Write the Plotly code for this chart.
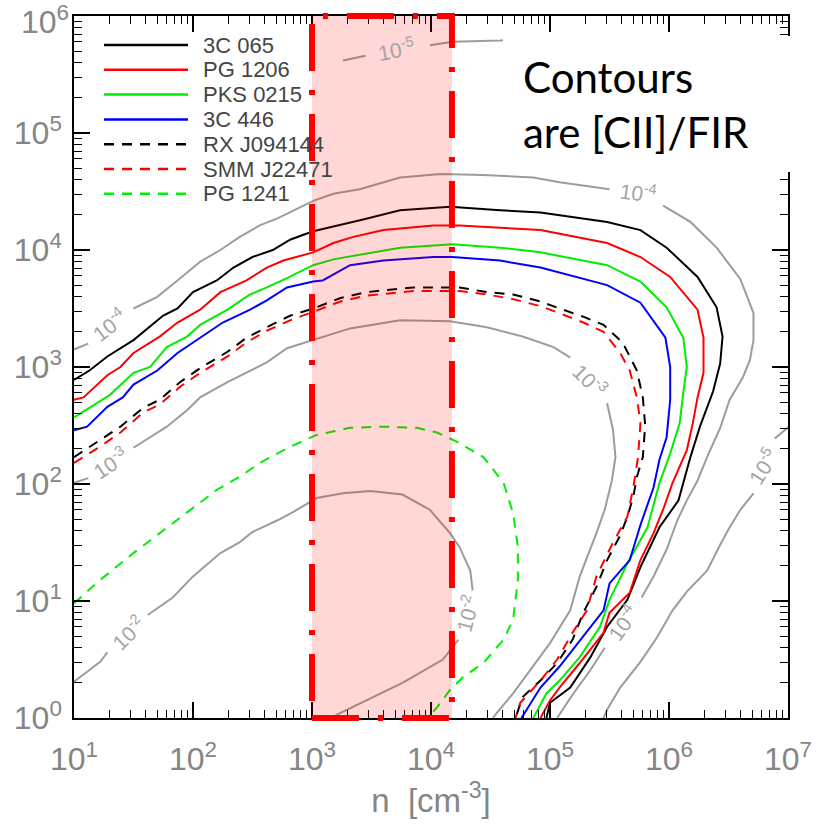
import plotly.graph_objects as go

# Figure geometry (pixels)
W, H = 823, 826
ML, MR, MT, MB = 74, 35, 16, 108


def px(v):
    """Horizontal pixel -> paper fraction."""
    return (v - ML) / (W - ML - MR)


def py(v):
    """Vertical pixel (from top) -> paper fraction."""
    return (H - MB - v) / (H - MT - MB)


# ---------------------------------------------------------------------------
# Curves: log10 of density n [cm^-3] and log10 of G0 along each source track
# ---------------------------------------------------------------------------
names = ["3C 065", "PG 1206", "PKS 0215", "3C 446", "RX J094144", "SMM J22471", "PG 1241"]

logn_3c065 = [1.00, 1.13, 1.28, 1.50, 1.75, 1.87, 2.00, 2.20, 2.34, 2.50, 2.67, 2.82, 3.01, 3.18, 3.43,
              3.74, 4.16, 4.58, 4.92, 5.48, 5.76, 5.98, 6.24, 6.40, 6.45, 6.43, 6.37, 6.26, 6.18, 6.08,
              5.92, 5.76, 5.65, 5.48, 5.34, 5.17, 5.00, 4.97]
logg_3c065 = [2.89, 2.97, 3.09, 3.23, 3.44, 3.50, 3.64, 3.74, 3.85, 3.94, 4.00, 4.09, 4.16, 4.20, 4.26,
              4.34, 4.37, 4.34, 4.32, 4.24, 4.17, 4.02, 3.77, 3.51, 3.26, 3.03, 2.79, 2.49, 2.23, 1.86,
              1.63, 1.29, 1.01, 0.78, 0.52, 0.26, 0.13, 0.00]

logn_pg1206 = [1.00, 1.08, 1.28, 1.39, 1.50, 1.72, 1.87, 2.06, 2.23, 2.45, 2.62, 2.76, 3.01, 3.18, 3.34,
               3.60, 4.02, 4.24, 4.58, 4.92, 5.48, 5.76, 6.01, 6.24, 6.29, 6.29, 6.24, 6.20, 6.15, 6.03,
               5.95, 5.87, 5.76, 5.67, 5.50, 5.45, 5.25, 5.08, 5.00, 4.92]
logg_pg1206 = [2.72, 2.74, 2.93, 3.00, 3.12, 3.26, 3.38, 3.49, 3.64, 3.74, 3.85, 3.91, 3.98, 4.06, 4.11,
               4.17, 4.21, 4.21, 4.19, 4.17, 4.06, 3.94, 3.77, 3.49, 3.25, 2.95, 2.74, 2.52, 2.29, 2.01,
               1.78, 1.58, 1.35, 1.07, 0.90, 0.73, 0.47, 0.26, 0.15, 0.00]

logn_pks0215 = [1.00, 1.13, 1.30, 1.50, 1.64, 1.78, 1.95, 2.06, 2.29, 2.48, 2.62, 2.79, 3.01, 3.18, 3.46,
                3.74, 4.18, 4.58, 4.92, 5.48, 5.76, 5.98, 6.12, 6.15, 6.12, 6.09, 6.01, 5.92, 5.82, 5.65,
                5.50, 5.42, 5.25, 5.08, 4.97, 4.86]
logg_pks0215 = [2.57, 2.65, 2.76, 2.95, 3.00, 3.17, 3.26, 3.36, 3.49, 3.62, 3.68, 3.76, 3.87, 3.92, 3.97,
                4.02, 4.05, 4.02, 3.98, 3.87, 3.73, 3.51, 3.25, 3.00, 2.78, 2.52, 2.26, 2.01, 1.63, 1.32,
                1.01, 0.78, 0.52, 0.32, 0.21, 0.00]

logn_3c446 = [1.00, 1.11, 1.28, 1.41, 1.50, 1.70, 1.87, 2.00, 2.08, 2.25, 2.48, 2.62, 2.79, 3.01, 3.09,
              3.32, 3.60, 4.02, 4.18, 4.58, 4.92, 5.48, 5.76, 5.97, 6.01, 6.01, 5.98, 5.92, 5.87, 5.76,
              5.67, 5.50, 5.45, 5.23, 5.08, 4.92, 4.76]
logg_3c446 = [2.46, 2.49, 2.66, 2.74, 2.85, 2.97, 3.12, 3.21, 3.26, 3.38, 3.49, 3.57, 3.68, 3.73, 3.74,
              3.87, 3.91, 3.94, 3.94, 3.91, 3.85, 3.70, 3.55, 3.25, 3.00, 2.72, 2.40, 2.21, 1.97, 1.65,
              1.35, 1.15, 0.92, 0.64, 0.44, 0.26, 0.00]

logn_rxj094144 = [1.00, 1.22, 1.39, 1.58, 1.72, 1.89, 2.06, 2.29, 2.45, 2.62, 2.82, 3.01, 3.24, 3.46, 3.85,
                  4.24, 4.47, 4.69, 4.92, 5.08, 5.28, 5.45, 5.61, 5.73, 5.78, 5.80, 5.78, 5.73, 5.70, 5.65,
                  5.59, 5.48, 5.39, 5.28, 5.19, 5.06, 4.92, 4.77, 4.71]
logg_rxj094144 = [2.23, 2.38, 2.49, 2.65, 2.72, 2.87, 2.99, 3.13, 3.25, 3.34, 3.44, 3.50, 3.59, 3.64, 3.68,
                  3.68, 3.64, 3.62, 3.56, 3.50, 3.43, 3.36, 3.21, 2.97, 2.74, 2.50, 2.23, 2.06, 1.89, 1.72,
                  1.56, 1.35, 1.12, 0.90, 0.67, 0.47, 0.32, 0.18, 0.00]

logn_smmj22471 = [1.00, 1.22, 1.39, 1.58, 1.72, 1.89, 2.06, 2.29, 2.45, 2.62, 2.82, 3.01, 3.24, 3.46, 3.85,
                  4.24, 4.47, 4.69, 4.92, 5.08, 5.28, 5.45, 5.59, 5.67, 5.73, 5.76, 5.74, 5.70, 5.65, 5.53,
                  5.39, 5.31, 5.19, 5.06, 4.92, 4.75, 4.71]
logg_smmj22471 = [2.18, 2.32, 2.44, 2.61, 2.68, 2.83, 2.95, 3.09, 3.21, 3.31, 3.40, 3.47, 3.56, 3.61, 3.65,
                  3.65, 3.62, 3.58, 3.52, 3.46, 3.38, 3.30, 3.12, 2.97, 2.74, 2.52, 2.23, 1.97, 1.72, 1.50,
                  1.21, 0.92, 0.73, 0.50, 0.32, 0.13, 0.00]

logn_pg1241 = [1.00, 1.22, 1.50, 1.72, 1.87, 2.06, 2.20, 2.39, 2.56, 2.82, 3.04, 3.32, 3.60, 3.88, 4.05,
               4.22, 4.44, 4.61, 4.69, 4.73, 4.73, 4.69, 4.61, 4.44, 4.27, 4.16, 4.05, 3.97]
logg_pg1241 = [0.98, 1.18, 1.41, 1.58, 1.69, 1.84, 1.95, 2.06, 2.18, 2.32, 2.42, 2.48, 2.49, 2.48, 2.44,
               2.36, 2.23, 2.01, 1.75, 1.46, 1.18, 0.84, 0.67, 0.47, 0.35, 0.24, 0.09, 0.00]

series_logn = [logn_3c065, logn_pg1206, logn_pks0215, logn_3c446, logn_rxj094144, logn_smmj22471, logn_pg1241]
series_logg = [logg_3c065, logg_pg1206, logg_pks0215, logg_3c446, logg_rxj094144, logg_smmj22471, logg_pg1241]

# ---------------------------------------------------------------------------
# [CII]/FIR contours (None = break left for the inline label)
# ---------------------------------------------------------------------------
c2_logn = [1.00, 1.22, 1.28, None, 1.62, 1.83, 2.00, 2.23, 2.39, 2.50, 2.71, 2.84, 3.04, 3.26, 3.49, 3.76,
           3.99, 4.16, 4.24, 4.33, 4.35, None, 4.23, 4.10, 3.76, 3.51, 3.21, 3.17]
c2_logg = [0.31, 0.48, 0.56, None, 0.88, 1.03, 1.21, 1.41, 1.50, 1.59, 1.69, 1.76, 1.88, 1.92, 1.94, 1.91,
           1.78, 1.58, 1.46, 1.26, 1.09, None, 0.67, 0.50, 0.30, 0.18, 0.03, 0.00]

c3_logn = [1.00, 1.12, None, 1.50, 1.64, 1.78, 1.95, 2.06, 2.29, 2.48, 2.62, 2.79, 3.01, 3.18, 3.32, 3.74,
           4.16, 4.47, 4.77, 5.03, 5.17, None, 5.48, 5.53, 5.55, 5.52, 5.46, 5.39, 5.25, 5.17, 5.00, 4.81,
           4.69, 4.55, 4.52]
c3_logg = [2.01, 2.05, None, 2.31, 2.40, 2.49, 2.63, 2.74, 2.87, 2.97, 3.04, 3.16, 3.23, 3.29, 3.33, 3.40,
           3.39, 3.34, 3.26, 3.17, 3.08, None, 2.69, 2.46, 2.23, 2.03, 1.78, 1.58, 1.21, 0.92, 0.64, 0.38,
           0.21, 0.04, 0.00]

c4_logn = [1.00, 1.12, None, 1.50, 1.70, 1.87, 2.06, 2.23, 2.39, 2.56, 2.71, 3.01, 3.18, 3.40, 3.74, 4.08,
           4.44, 4.86, 5.08, 5.50, None, 5.95, 6.18, 6.40, 6.60, 6.71, 6.71, 6.68, 6.62, 6.51, 6.43, 6.32,
           6.24, 6.15, 6.07, 5.98, 5.87, 5.77, None, 5.46, 5.34, 5.19, 5.06]
c4_logg = [3.15, 3.20, None, 3.50, 3.60, 3.74, 3.90, 4.00, 4.11, 4.21, 4.27, 4.42, 4.48, 4.52, 4.62, 4.65,
           4.64, 4.62, 4.58, 4.52, None, 4.38, 4.24, 4.02, 3.75, 3.46, 3.23, 3.06, 2.91, 2.72, 2.48, 2.23,
           2.03, 1.86, 1.69, 1.44, 1.21, 1.03, None, 0.60, 0.41, 0.20, 0.00]

c5_logn = [3.26, 3.45, None, 3.99, 4.18, 4.58, 4.75, None, 7.02, 6.89, None, 6.71, 6.60, 6.51, 6.43, 6.32,
           6.15, 6.03, 5.90, 5.76, 5.59, 5.48, 5.45]
c5_logg = [5.62, 5.66, None, 5.75, 5.78, 5.79, 5.80, None, 2.50, 2.39, None, 1.92, 1.78, 1.63, 1.48, 1.26,
           1.08, 0.92, 0.69, 0.48, 0.26, 0.07, 0.00]

contour_logn = [c2_logn, c3_logn, c4_logn, c5_logn]
contour_logg = [c2_logg, c3_logg, c4_logg, c5_logg]

# Inline contour labels: exponent, log10 n, log10 G0, text angle
contour_labels = [
    (-5, 3.71, 5.72, -10),
    (-4, 5.74, 4.50, 8),
    (-4, 1.29, 3.36, -38),
    (-3, 1.30, 2.18, -33),
    (-3, 5.34, 2.89, 45),
    (-2, 1.45, 0.73, -44),
    (-2, 4.30, 0.89, -75),
    (-4, 5.61, 0.81, -55),
    (-5, 6.79, 2.15, -58),
]

# Highlighted density range
box_n = [1.0e3, 1.5e4]

# Axis decades
x_exp = [1, 2, 3, 4, 5, 6, 7]
y_exp = [0, 1, 2, 3, 4, 5, 6]


def lin(vals):
    return [None if v is None else 10 ** v for v in vals]


colors = ["#000000", "#ff0000", "#00ee00", "#0000ff", "#000000", "#ff0000", "#00ee00"]
dashes = ["solid", "solid", "solid", "solid", "10px,8px", "10px,8px", "10px,8px"]
GRAY_LINE = "#9c9c9c"
GRAY_TEXT = "#858585"
TICK_FONT = dict(family="Liberation Sans", size=32, color=GRAY_TEXT)

fig = go.Figure()

for cn, cg in zip(contour_logn, contour_logg):
    fig.add_trace(go.Scatter(x=lin(cn), y=lin(cg), mode="lines", connectgaps=False,
                             line=dict(color=GRAY_LINE, width=2), showlegend=False, hoverinfo="skip"))

for nm, sn, sg, col, ds in zip(names, series_logn, series_logg, colors, dashes):
    fig.add_trace(go.Scatter(x=lin(sn), y=lin(sg), mode="lines", name=nm,
                             line=dict(color=col, width=2, dash=ds), showlegend=False))

shapes = []
annotations = []

# Contour labels
for ex, ln, lg, ang in contour_labels:
    annotations.append(dict(x=ln, y=lg, xref="x", yref="y", showarrow=False, textangle=ang,
                            text="10<sup>-%d</sup>" % abs(ex),
                            font=dict(family="Liberation Sans", size=21, color="#a4a4a4")))

# Highlighted density band
shapes.append(dict(type="rect", xref="x", yref="paper", x0=box_n[0], x1=box_n[1], y0=0, y1=1,
                   fillcolor="rgba(255,0,0,0.155)",
                   line=dict(color="#ff0000", width=6, dash="47px,19px,5px,19px"), layer="above"))

# Text panel in the upper right
shapes.append(dict(type="rect", xref="paper", yref="paper", x0=px(503), x1=px(823), y0=py(172), y1=py(36),
                   fillcolor="white", line=dict(width=0), layer="above"))
annotations.append(dict(xref="paper", yref="paper", x=px(521), y=py(105), xanchor="left", yanchor="middle",
                        align="left", showarrow=False, text="Contours<br>are [CII]/FIR",
                        font=dict(family="Lato", size=42, color="black")))

# Legend (line samples + names)
for i, (nm, col, ds) in enumerate(zip(names, colors, dashes)):
    yy = py(45 + i * 24.8)
    shapes.append(dict(type="line", xref="paper", yref="paper", x0=px(104), x1=px(188), y0=yy, y1=yy,
                       line=dict(color=col, width=2.5, dash=ds), layer="above"))
    annotations.append(dict(xref="paper", yref="paper", x=px(201), y=yy, xanchor="left", yanchor="middle",
                            showarrow=False, text=nm,
                            font=dict(family="Liberation Sans", size=22, color="#454545")))

# Top y-axis label sits just below the top edge so it stays on the page
y_ticktext = ["10<sup>%d</sup>" % e for e in y_exp]
top_label = y_ticktext[-1]
y_ticktext[-1] = ""
annotations.append(dict(xref="paper", yref="paper", x=px(70), y=py(20), xanchor="right", yanchor="middle",
                        showarrow=False, text=top_label, font=TICK_FONT, borderpad=0))

axis_common = dict(
    type="log", showgrid=False, zeroline=False, showline=True, linecolor="black", linewidth=1.5,
    mirror="allticks", ticks="inside", ticklen=16, tickwidth=1.5, tickcolor="black",
    minor=dict(ticks="inside", ticklen=8, tickwidth=1.3, tickcolor="black", dtick="D1", showgrid=False),
    tickfont=TICK_FONT,
    tickmode="array",
    ticklabeloverflow="allow",
    automargin=False,
)

fig.update_layout(
    width=W, height=H,
    margin=dict(l=ML, r=MR, t=MT, b=MB, autoexpand=False),
    paper_bgcolor="white", plot_bgcolor="white",
    showlegend=False,
    xaxis=dict(axis_common, range=[1, 7],
               tickvals=[10 ** e for e in x_exp], ticktext=["10<sup>%d</sup>" % e for e in x_exp],
               ticklabelstandoff=12,
               title=dict(text="n  [cm<sup>-3</sup>]", standoff=8,
                          font=dict(family="Liberation Sans", size=33, color=GRAY_TEXT))),
    yaxis=dict(axis_common, range=[0, 6],
               tickvals=[10 ** e for e in y_exp], ticktext=y_ticktext,
               ticklabelstandoff=4),
    shapes=shapes,
    annotations=annotations,
)

fig.write_html("out.html")
